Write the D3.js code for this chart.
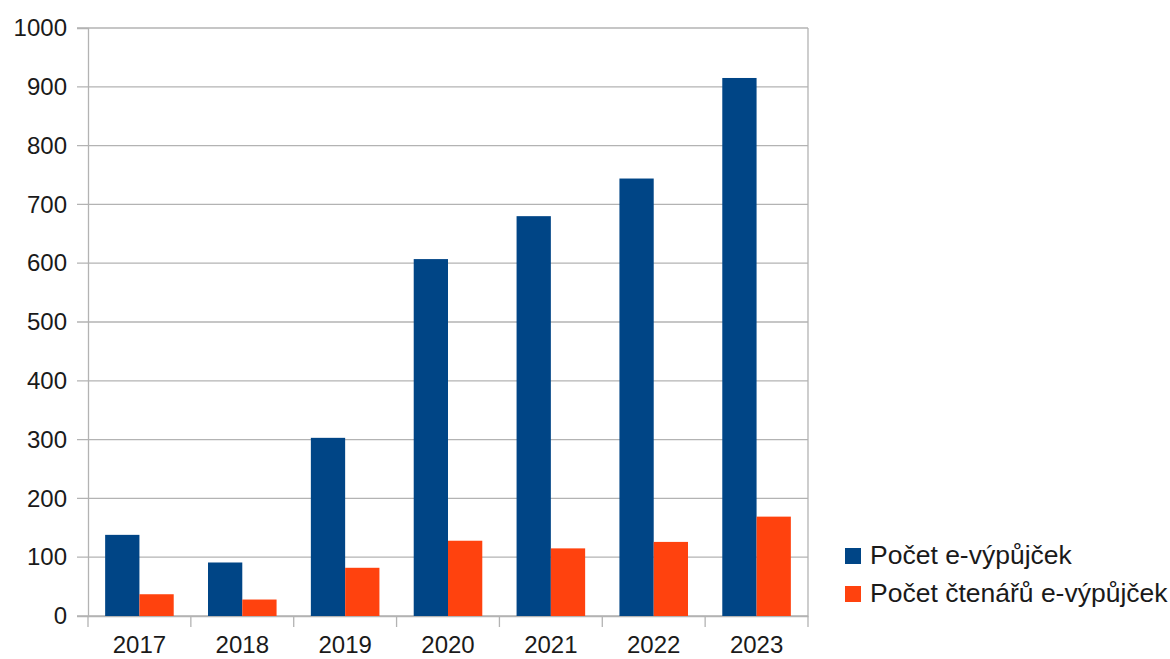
<!DOCTYPE html>
<html>

<head>
    <meta charset="utf-8">
    <title>E-výpůjčky</title>
    <script src="https://d3js.org/d3.v7.min.js"></script>
    <style>
        body { margin: 0; background: #fff; }
        text { font-family: "Liberation Sans", Arial, sans-serif; fill: #1a1a1a; }
    </style>
</head>

<body>
    <script>
        // chart data
        var years = ["2017", "2018", "2019", "2020", "2021", "2022", "2023"];
        var seriesNames = ["Počet e-výpůjček", "Počet čtenářů e-výpůjček"];
        var loans = [138, 91, 303, 607, 680, 744, 915];
        var readers = [37, 28, 82, 128, 115, 126, 169];
        var yTicks = [0, 100, 200, 300, 400, 500, 600, 700, 800, 900, 1000];
        var colors = ["#004586", "#ff420e"];

        var width = 1170, height = 659;
        var margin = { top: 28, right: 362, bottom: 43, left: 88 };
        var innerW = width - margin.left - margin.right,
            innerH = height - margin.top - margin.bottom;

        var svg = d3.select("body")
            .append("svg")
            .attr("width", width)
            .attr("height", height);

        var g = svg.append("g")
            .attr("transform", "translate(" + margin.left + "," + margin.top + ")");

        var x = d3.scaleBand()
            .domain(years)
            .range([0, innerW]);

        // two bars per year, gap equal to one bar width
        var x1 = d3.scaleBand()
            .domain([0, 1])
            .range([x.bandwidth() / 6, x.bandwidth() * 5 / 6]);

        var y = d3.scaleLinear()
            .domain([0, 1000])
            .range([innerH, 0]);

        // horizontal grid lines
        g.append("g")
            .selectAll("line")
            .data(yTicks)
            .enter()
            .append("line")
            .attr("x1", -11)
            .attr("x2", innerW)
            .attr("y1", d => y(d))
            .attr("y2", d => y(d))
            .attr("stroke", "#b3b3b3")
            .attr("stroke-width", 1.3);

        // y axis labels
        var yAxis = g.append("g")
            .call(d3.axisLeft(y).tickValues(yTicks).tickFormat(d3.format("d")).tickSize(11).tickPadding(10));
        yAxis.select(".domain").attr("stroke", "#b3b3b3").attr("stroke-width", 1.3);
        yAxis.selectAll(".tick line").remove();
        yAxis.selectAll("text").style("font-size", "24px").attr("fill", "#1a1a1a");

        // right border
        g.append("line")
            .attr("x1", innerW).attr("x2", innerW)
            .attr("y1", 0).attr("y2", innerH)
            .attr("stroke", "#b3b3b3")
            .attr("stroke-width", 1.3);

        // x axis with ticks between categories
        var xAxis = g.append("g")
            .attr("transform", "translate(0," + innerH + ")")
            .call(d3.axisBottom(x).tickSize(0).tickPadding(20));
        xAxis.select(".domain").attr("stroke", "#b3b3b3").attr("stroke-width", 1.3);
        xAxis.selectAll("text").style("font-size", "24px").attr("fill", "#1a1a1a");

        var boundaries = years.map(d => x(d)).concat([innerW]);
        xAxis.selectAll(".sep")
            .data(boundaries)
            .enter()
            .append("line")
            .attr("class", "sep")
            .attr("x1", d => d).attr("x2", d => d)
            .attr("y1", 0).attr("y2", 11)
            .attr("stroke", "#b3b3b3")
            .attr("stroke-width", 1.3);

        // bars
        var rows = years.map((yr, i) => ({ year: yr, values: [loans[i], readers[i]] }));

        var groups = g.selectAll(".year")
            .data(rows)
            .enter()
            .append("g")
            .attr("transform", d => "translate(" + x(d.year) + ",0)");

        groups.selectAll("rect")
            .data(d => d.values.map((v, k) => ({ k: k, v: v })))
            .enter()
            .append("rect")
            .attr("x", d => x1(d.k))
            .attr("width", x1.bandwidth())
            .attr("y", d => y(d.v))
            .attr("height", d => innerH - y(d.v))
            .attr("fill", d => colors[d.k]);

        // legend
        var legend = svg.append("g")
            .attr("transform", "translate(845,548)");

        var items = legend.selectAll("g")
            .data(seriesNames)
            .enter()
            .append("g")
            .attr("transform", (d, i) => "translate(0," + (i * 38) + ")");

        items.append("rect")
            .attr("width", 16)
            .attr("height", 16)
            .attr("fill", (d, i) => colors[i]);

        items.append("text")
            .attr("x", 25)
            .attr("y", 16)
            .style("font-size", "26.5px")
            .text(d => d);
    </script>
</body>

</html>
